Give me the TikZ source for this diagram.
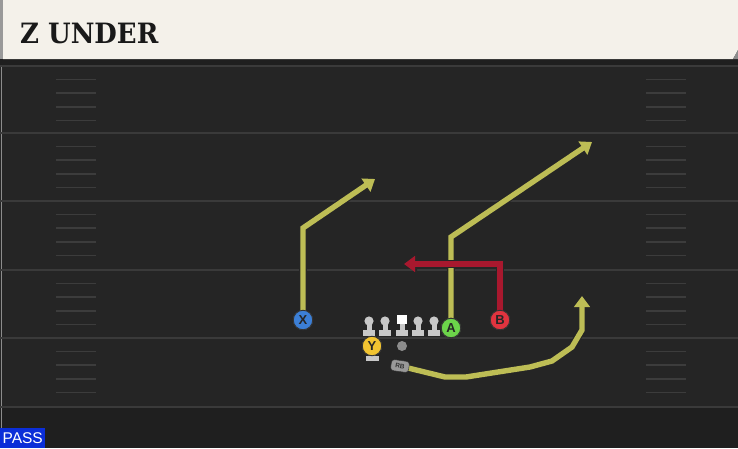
\documentclass[tikz,border=0pt]{standalone}
\usepackage{fontspec}
\setmainfont{Liberation Sans}
\newfontfamily\titlefont{DejaVu Serif Condensed}
\usetikzlibrary{arrows.meta}
\definecolor{fieldbg}{HTML}{252525}
\definecolor{yardline}{HTML}{3A3A3A}
\definecolor{hashc}{HTML}{3C3C3C}
\definecolor{cream}{HTML}{F4F1EA}
\definecolor{olive}{HTML}{BDBD55}
\definecolor{routered}{HTML}{A8182E}
\definecolor{xblue}{HTML}{3C7FD6}
\definecolor{agreen}{HTML}{6CD44A}
\definecolor{bred}{HTML}{E0343F}
\definecolor{yyellow}{HTML}{F2C431}
\definecolor{lmgray}{HTML}{C8C8C8}
\definecolor{passblue}{HTML}{0B2ED8}
\tikzset{
  routeout/.style={draw=black!85, line width=7.6pt, line join=miter, -{Triangle[length=13pt,width=18pt]}},
  routein/.style={draw=#1, line width=5.4pt, line join=miter, -{Triangle[length=11pt,width=15.5pt]}},
  player/.style={circle, draw=black!80, line width=0.9pt, fill=#1, minimum size=19.5pt, inner sep=0pt, font=\fontsize{13}{13}\selectfont\bfseries, text=black!85},
  yardln/.style={draw=yardline, line width=2pt},
  hashln/.style={draw=hashc, line width=1.6pt},
}
\begin{document}
\begin{tikzpicture}[x=1pt,y=-1pt]
\useasboundingbox (0,0) rectangle (738,448);
% field
\fill[fieldbg] (0,0) rectangle (738,448);
\fill[black!88] (0,59) rectangle (738,66);
\fill[black!15!fieldbg] (0,408) rectangle (738,448);
\draw[draw=black!45, line width=1pt] (1.5,66) -- (1.5,448);
% yard lines
\foreach \y in {66,133,201,270,338,407} {
  \draw[yardln] (0,\y) -- (738,\y);
}
% hash marks
\foreach \y in {66,133,201,270,338} {
  \foreach \k in {1,2,3,4} {
    \draw[hashln] (56,\y+\k*13.6) -- (96,\y+\k*13.6);
    \draw[hashln] (646,\y+\k*13.6) -- (686,\y+\k*13.6);
  }
}
% title bar
\fill[cream] (3,0) -- (738,0) -- (738,50) -- (733,59) -- (3,59) -- cycle;
\fill[black!40] (0,0) rectangle (3,59);
\fill[black!45] (733,59) -- (738,50) -- (738,59) -- cycle;
\node[anchor=base west, inner sep=0pt, text=black!90] (title) at (20,43)
  {\titlefont\bfseries\fontsize{28}{28}\selectfont\scalebox{1.03}[1]{Z UNDER}};
% PASS label
\node[anchor=south west, fill=passblue, text=white, inner sep=0pt, minimum width=45pt, minimum height=20pt, font=\fontsize{15.5}{15.5}\selectfont] (pass) at (0,448) {PASS};
% players
\node[player=xblue] (X) at (303,320) {X};
\node[player=agreen] (A) at (451,328) {A};
\node[player=bred] (B) at (500,320) {B};
\node[player=yyellow] (Y) at (372,346) {Y};
% route waypoints
\coordinate (x1) at (303,228);
\coordinate (x2) at (375,179);
\coordinate (a1) at (451,237);
\coordinate (a2) at (592,142);
\coordinate (b1) at (500,264);
\coordinate (b2) at (404,264);
\coordinate (r1) at (445,377);
\coordinate (r2) at (466,377);
\coordinate (r3) at (530,367);
\coordinate (r4) at (552,361);
\coordinate (r5) at (572,347);
\coordinate (r6) at (582,330);
\coordinate (r7) at (582,296);
% routes
\draw[routeout] (X.center) -- (x1) -- (x2);
\draw[routein=olive] (X.center) -- (x1) -- (x2);
\draw[routeout] (A.center) -- (a1) -- (a2);
\draw[routein=olive] (A.center) -- (a1) -- (a2);
\draw[routeout] (B.center) -- (b1) -- (b2);
\draw[routein=routered] (B.center) -- (b1) -- (b2);
\node[player=xblue] at (X) {X};
\node[player=agreen] at (A) {A};
\node[player=bred] at (B) {B};
% RB
\coordinate (rbc) at (400,366);
\draw[routeout] (rbc) -- (r1) -- (r2) -- (r3) -- (r4) -- (r5) -- (r6) -- (r7);
\draw[routein=olive] (rbc) -- (r1) -- (r2) -- (r3) -- (r4) -- (r5) -- (r6) -- (r7);
\node[rounded corners=3pt, draw=black!80, fill=black!40, minimum width=18pt, minimum height=11pt, inner sep=0pt, font=\fontsize{6.5}{6.5}\selectfont\bfseries, text=black!80, rotate=-8] (RB) at (rbc) {RB};
% linemen
\foreach \n/\x in {l1/369,l2/385,r1m/418,r2m/434} {
  \fill[lmgray] (\x,321) circle (4.6);
  \fill[lmgray] (\x-2.5,321) rectangle (\x+2.5,331);
  \fill[lmgray] (\x-6,330) rectangle (\x+6,335.5);
  \coordinate (\n) at (\x,328);
}
\fill[white] (397,314.5) rectangle (407,324);
\fill[lmgray] (399.5,324) rectangle (404.5,331);
\fill[lmgray] (396,330) rectangle (408,335.5);
\coordinate (C) at (402,328);
% Y stand
\fill[lmgray] (369.5,354) rectangle (374.5,358);
\fill[lmgray] (365.5,356) rectangle (378.5,360.5);
\node[player=yyellow] at (Y) {Y};
% ball
\fill[black!45] (402,346) circle (5);
\node[player=agreen] at (A) {A};
\end{tikzpicture}
\end{document}
